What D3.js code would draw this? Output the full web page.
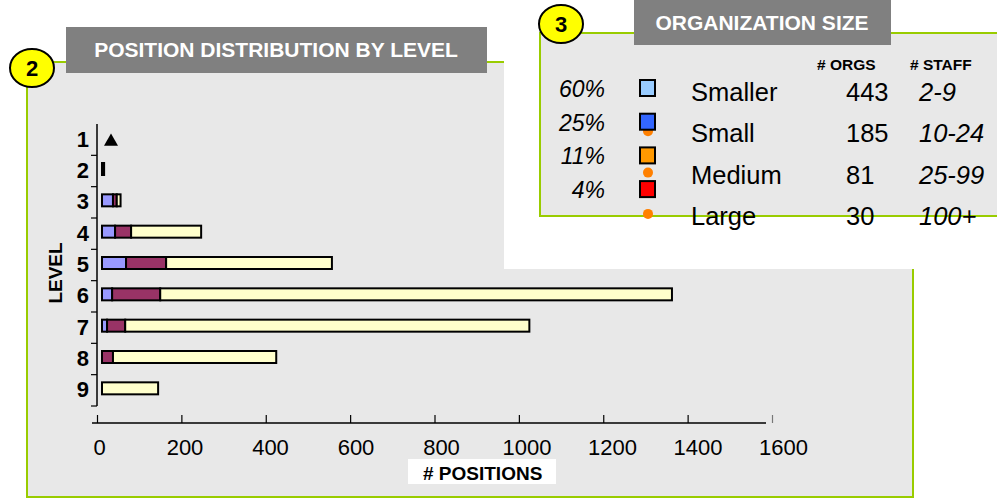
<!DOCTYPE html>
<html lang="en">
<head>
<meta charset="UTF-8">
<script src="https://d3js.org/d3.v7.min.js"></script>
<title>Positions by level</title>
<style>
  body { margin: 0; background: #fff; }
  svg { display: block; font-family: "Liberation Sans", Arial, sans-serif; }
</style>
</head>
<body>
<svg id="chart"></svg>
<script>
const width = 997, height = 499;

// stacked bars: positions per level
const levels = ["1", "2", "3", "4", "5", "6", "7", "8", "9"];
const seriesKeys = ["first", "second", "third"];
const firstVals  = [0, 3, 26, 31, 57, 24, 12, 0, 0];
const secondVals = [0, 1, 9, 38, 95, 114, 43, 26, 0];
const thirdVals  = [0, 1, 9, 166, 393, 1213, 958, 387, 133];
const markedLevels = ["1"];
const xTicks = [0, 200, 400, 600, 800, 1000, 1200, 1400, 1600];

// organization size table
const sizeNames = ["Smaller", "Small", "Medium", "Large"];
const sizeShares = ["60%", "25%", "11%", "4%"];
const orgCounts = [443, 185, 81, 30];
const staffRanges = ["2-9", "10-24", "25-99", "100+"];

const barColors = ["#9999ff", "#993366", "#ffffcc"];
const sizeColors = ["#99ccff", "#3366ff", "#ff9900", "#ff0000"];
const green = "#99cc00", panelFill = "#e8e8e8", titleFill = "#808080";

const svg = d3.select("#chart").attr("width", width).attr("height", height);

// ---- panel 2 frame
svg.append("rect").attr("x", 27).attr("y", 62).attr("width", 886).attr("height", 435)
  .attr("fill", panelFill).attr("stroke", green).attr("stroke-width", 2);
// white area where panel 3 sits
svg.append("rect").attr("x", 504).attr("y", 0).attr("width", 500).attr("height", 269).attr("fill", "#fff");

svg.append("rect").attr("x", 66).attr("y", 27).attr("width", 421).attr("height", 46).attr("fill", titleFill);
svg.append("text").attr("x", 276).attr("y", 57).attr("text-anchor", "middle")
  .attr("fill", "#fff").attr("font-weight", "bold").attr("font-size", 21)
  .text("POSITION DISTRIBUTION BY LEVEL");

function badge(cx, cy, label) {
  svg.append("ellipse").attr("cx", cx).attr("cy", cy).attr("rx", 22).attr("ry", 19)
    .attr("fill", "#ffff00").attr("stroke", "#000").attr("stroke-width", 2);
  svg.append("text").attr("x", cx).attr("y", cy + 8).attr("text-anchor", "middle")
    .attr("font-weight", "bold").attr("font-size", 22).text(label);
}
badge(32, 68, "2");

// ---- bar chart
const rows = levels.map((l, i) => ({ level: l, first: firstVals[i], second: secondVals[i], third: thirdVals[i] }));
const stacked = d3.stack().keys(seriesKeys)(rows);

const x = d3.scaleLinear().domain([0, 1600]).range([97, 772]);
const xLabel = d3.scaleLinear().domain([0, 1600]).range([99, 783]);
const y = d3.scaleBand().domain(levels).range([124, 406]);
const barH = 12, barShift = 5;

const bars = svg.append("g").attr("transform", `translate(${barShift},0)`);
stacked.forEach((s, si) => {
  bars.append("g").selectAll("rect").data(s).join("rect")
    .attr("x", d => x(d[0]))
    .attr("y", d => y(d.data.level) + y.bandwidth() / 2 - barH / 2 - 2)
    .attr("width", d => x(d[1]) - x(d[0]))
    .attr("height", barH)
    .attr("fill", barColors[si])
    .attr("stroke", "#000").attr("stroke-width", 2);
});
bars.selectAll("path.mark").data(markedLevels).join("path").attr("class", "mark")
  .attr("d", d3.symbol(d3.symbolTriangle, 85))
  .attr("transform", d => `translate(${x(0) + 9},${y(d) + y.bandwidth() / 2 + 2})`)
  .attr("fill", "#000");

// y axis
svg.append("line").attr("x1", 97).attr("x2", 97).attr("y1", y.range()[0]).attr("y2", y.range()[1])
  .attr("stroke", "#000").attr("stroke-width", 1.5);
svg.append("g").selectAll("line").data(levels).join("line")
  .attr("x1", 91).attr("x2", 97)
  .attr("y1", d => y(d) + y.step()).attr("y2", d => y(d) + y.step())
  .attr("stroke", "#000").attr("stroke-width", 1.2);
svg.append("g").attr("transform", "translate(97,0)")
  .call(d3.axisLeft(y).tickSize(0).tickPadding(8))
  .call(g => g.select(".domain").remove())
  .call(g => g.selectAll("text").attr("font-size", 22).attr("font-weight", "bold")
    .attr("font-family", "Liberation Sans, Arial, sans-serif").attr("fill", "#000"));
svg.append("text").attr("transform", "translate(62,273) rotate(-90)")
  .attr("text-anchor", "middle").attr("font-weight", "bold").attr("font-size", 19).text("LEVEL");

// x axis
svg.append("line").attr("x1", x(0) - 5).attr("x2", x(1600) - 6).attr("y1", 423).attr("y2", 423)
  .attr("stroke", "#000").attr("stroke-width", 1.5);
svg.append("g").attr("transform", "translate(0,423)")
  .call(d3.axisBottom(x).tickValues(xTicks).tickSizeInner(-8).tickSizeOuter(0).tickFormat(d3.format("d")))
  .call(g => g.select(".domain").remove())
  .call(g => g.selectAll(".tick line").attr("stroke", d => d === 1600 ? "#777" : "#000").attr("stroke-width", 1.2))
  .call(g => g.selectAll("text").attr("y", 32).attr("dy", 0)
    .attr("x", d => xLabel(d) - x(d))
    .attr("font-size", 22).attr("font-family", "Liberation Sans, Arial, sans-serif").attr("fill", "#000"));
svg.append("rect").attr("x", 408).attr("y", 459).attr("width", 148).attr("height", 25).attr("fill", "#fff");
svg.append("text").attr("x", 423).attr("y", 480).attr("font-weight", "bold").attr("font-size", 19).text("# POSITIONS");

// ---- panel 3: organization size
svg.append("rect").attr("x", 540).attr("y", 33).attr("width", 500).attr("height", 183)
  .attr("fill", panelFill).attr("stroke", green).attr("stroke-width", 2);
svg.append("rect").attr("x", 634).attr("y", 0).attr("width", 257).attr("height", 45).attr("fill", titleFill);
svg.append("text").attr("x", 762).attr("y", 30).attr("text-anchor", "middle")
  .attr("fill", "#fff").attr("font-weight", "bold").attr("font-size", 21).text("ORGANIZATION SIZE");
badge(561, 24, "3");

svg.append("text").attr("x", 817).attr("y", 70).attr("font-weight", "bold").attr("font-size", 15.5).text("# ORGS");
svg.append("text").attr("x", 910).attr("y", 70).attr("font-weight", "bold").attr("font-size", 15.5).text("# STAFF");

const legendRow = i => 97 + i * 33.7;   // share / swatch rows
const nameRow = i => 101 + i * 41.3;    // name / count rows
const leg = svg.append("g");

leg.selectAll("circle").data(sizeNames.slice(1)).join("circle")
  .attr("cx", 648).attr("cy", (d, i) => nameRow(i + 1) - 11).attr("r", 5).attr("fill", "#ff8000");
leg.selectAll("rect").data(sizeNames).join("rect")
  .attr("x", 640).attr("y", (d, i) => legendRow(i) - 17).attr("width", 15).attr("height", 16)
  .attr("fill", (d, i) => sizeColors[i]).attr("stroke", "#000").attr("stroke-width", 2);
leg.selectAll("text.share").data(sizeShares).join("text").attr("class", "share")
  .attr("x", 605).attr("y", (d, i) => legendRow(i)).attr("text-anchor", "end")
  .attr("font-style", "italic").attr("font-size", 23).text(d => d);
leg.selectAll("text.name").data(sizeNames).join("text").attr("class", "name")
  .attr("x", 691).attr("y", (d, i) => nameRow(i)).attr("font-size", 25.5).text(d => d);
leg.selectAll("text.count").data(orgCounts).join("text").attr("class", "count")
  .attr("x", 846).attr("y", (d, i) => nameRow(i)).attr("font-size", 25.5).text(d => d);
leg.selectAll("text.staff").data(staffRanges).join("text").attr("class", "staff")
  .attr("x", 919).attr("y", (d, i) => nameRow(i)).attr("font-style", "italic").attr("font-size", 25.5).text(d => d);
</script>
</body>
</html>
